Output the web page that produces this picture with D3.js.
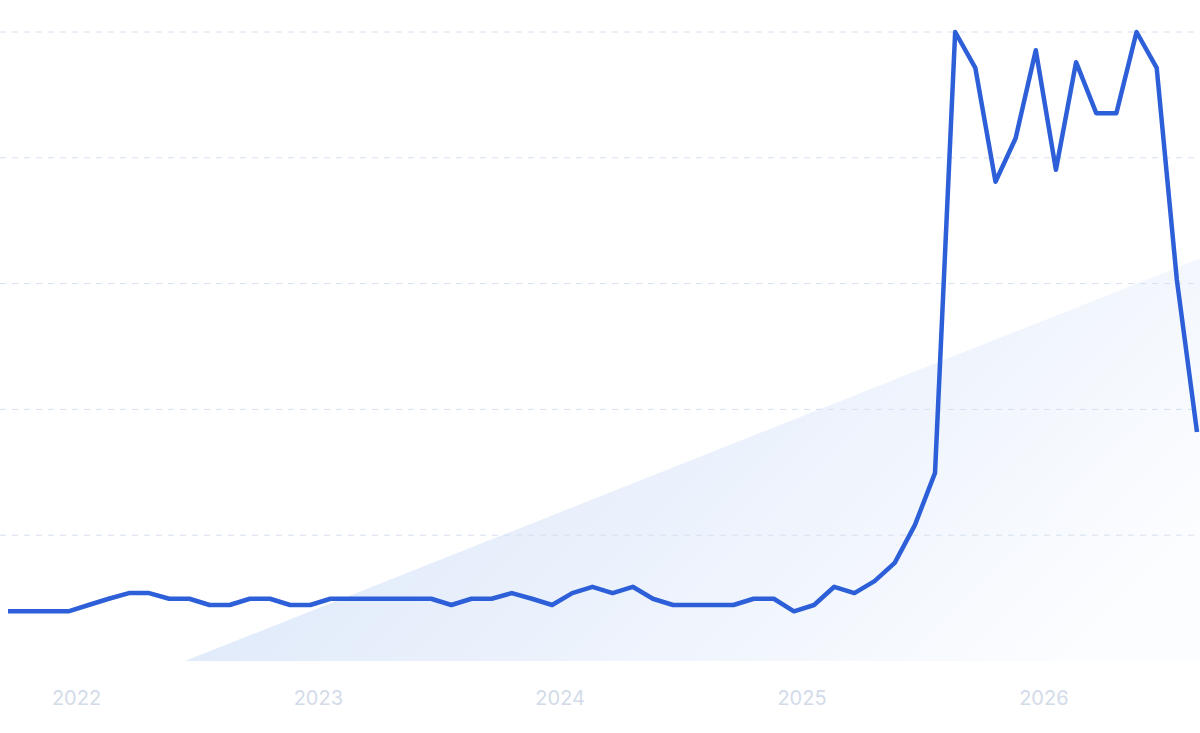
<!DOCTYPE html>
<html><head><meta charset="utf-8">
<script src="https://cdn.jsdelivr.net/npm/d3@7"></script>
<style>body{margin:0;background:#fff}</style>
</head><body>
<script>
// monthly values, Oct 2021 .. Nov 2026 (0-100 scale)
const values = [7.9,7.9,7.9,7.9,8.9,9.9,10.8,10.8,9.9,9.9,8.9,8.9,9.9,9.9,8.9,8.9,9.9,9.9,9.9,9.9,
  9.9,9.9,8.9,9.9,9.9,10.8,9.9,8.9,10.8,11.8,10.8,11.8,9.9,8.9,8.9,8.9,8.9,9.9,9.9,7.9,
  8.9,11.8,10.8,12.7,15.6,21.6,29.9,100,94.3,76.2,83.1,97.1,78.1,95.2,87.1,87.1,100,94.3,60.6,36.4]
const years = ["2022","2023","2024","2025","2026"]
const yearPos = [3.4,15.4,27.4,39.4,51.4] // month index of each label
const gridVals = [0,20,40,60,80,100]

const width = 1200, height = 733
const x = d3.scaleLinear().domain([0, values.length - 1]).range([8, 1197])
const y = d3.scaleLinear().domain([0, 100]).range([661, 32])

const svg = d3.select("body").append("svg").attr("width", width).attr("height", height)

const grad = svg.append("defs").append("linearGradient").attr("id", "g")
  .attr("x1", 0).attr("y1", 0.3).attr("x2", 1).attr("y2", 0.7)
grad.append("stop").attr("offset", 0.2).attr("stop-color", "#e0eafa")
grad.append("stop").attr("offset", 1).attr("stop-color", "#fcfdff")

svg.append("path")
  .attr("d", `M185,${y(0)}L${width},${y(64)}L${width},${y(0)}Z`)
  .attr("fill", "url(#g)")

svg.append("g").selectAll("line").data(gridVals.slice(1)).join("line")
  .attr("x1", 0).attr("x2", width)
  .attr("y1", d => y(d)).attr("y2", d => y(d))
  .attr("stroke", "#d6e0f0").attr("stroke-dasharray", "6,6")

svg.append("path").datum(values)
  .attr("fill", "none").attr("stroke", "#2d5fd8").attr("stroke-width", 4.5)
  .attr("stroke-linejoin", "round")
  .attr("d", d3.line().x((d, i) => x(i)).y(d => y(d)))

svg.append("g").selectAll("text").data(years).join("text")
  .attr("x", (d, i) => x(yearPos[i])).attr("y", 705)
  .attr("text-anchor", "middle")
  .attr("font-family", "Inter, sans-serif").attr("font-size", 20)
  .attr("fill", "#d3dbe9").text(d => d)
</script>
</body></html>
